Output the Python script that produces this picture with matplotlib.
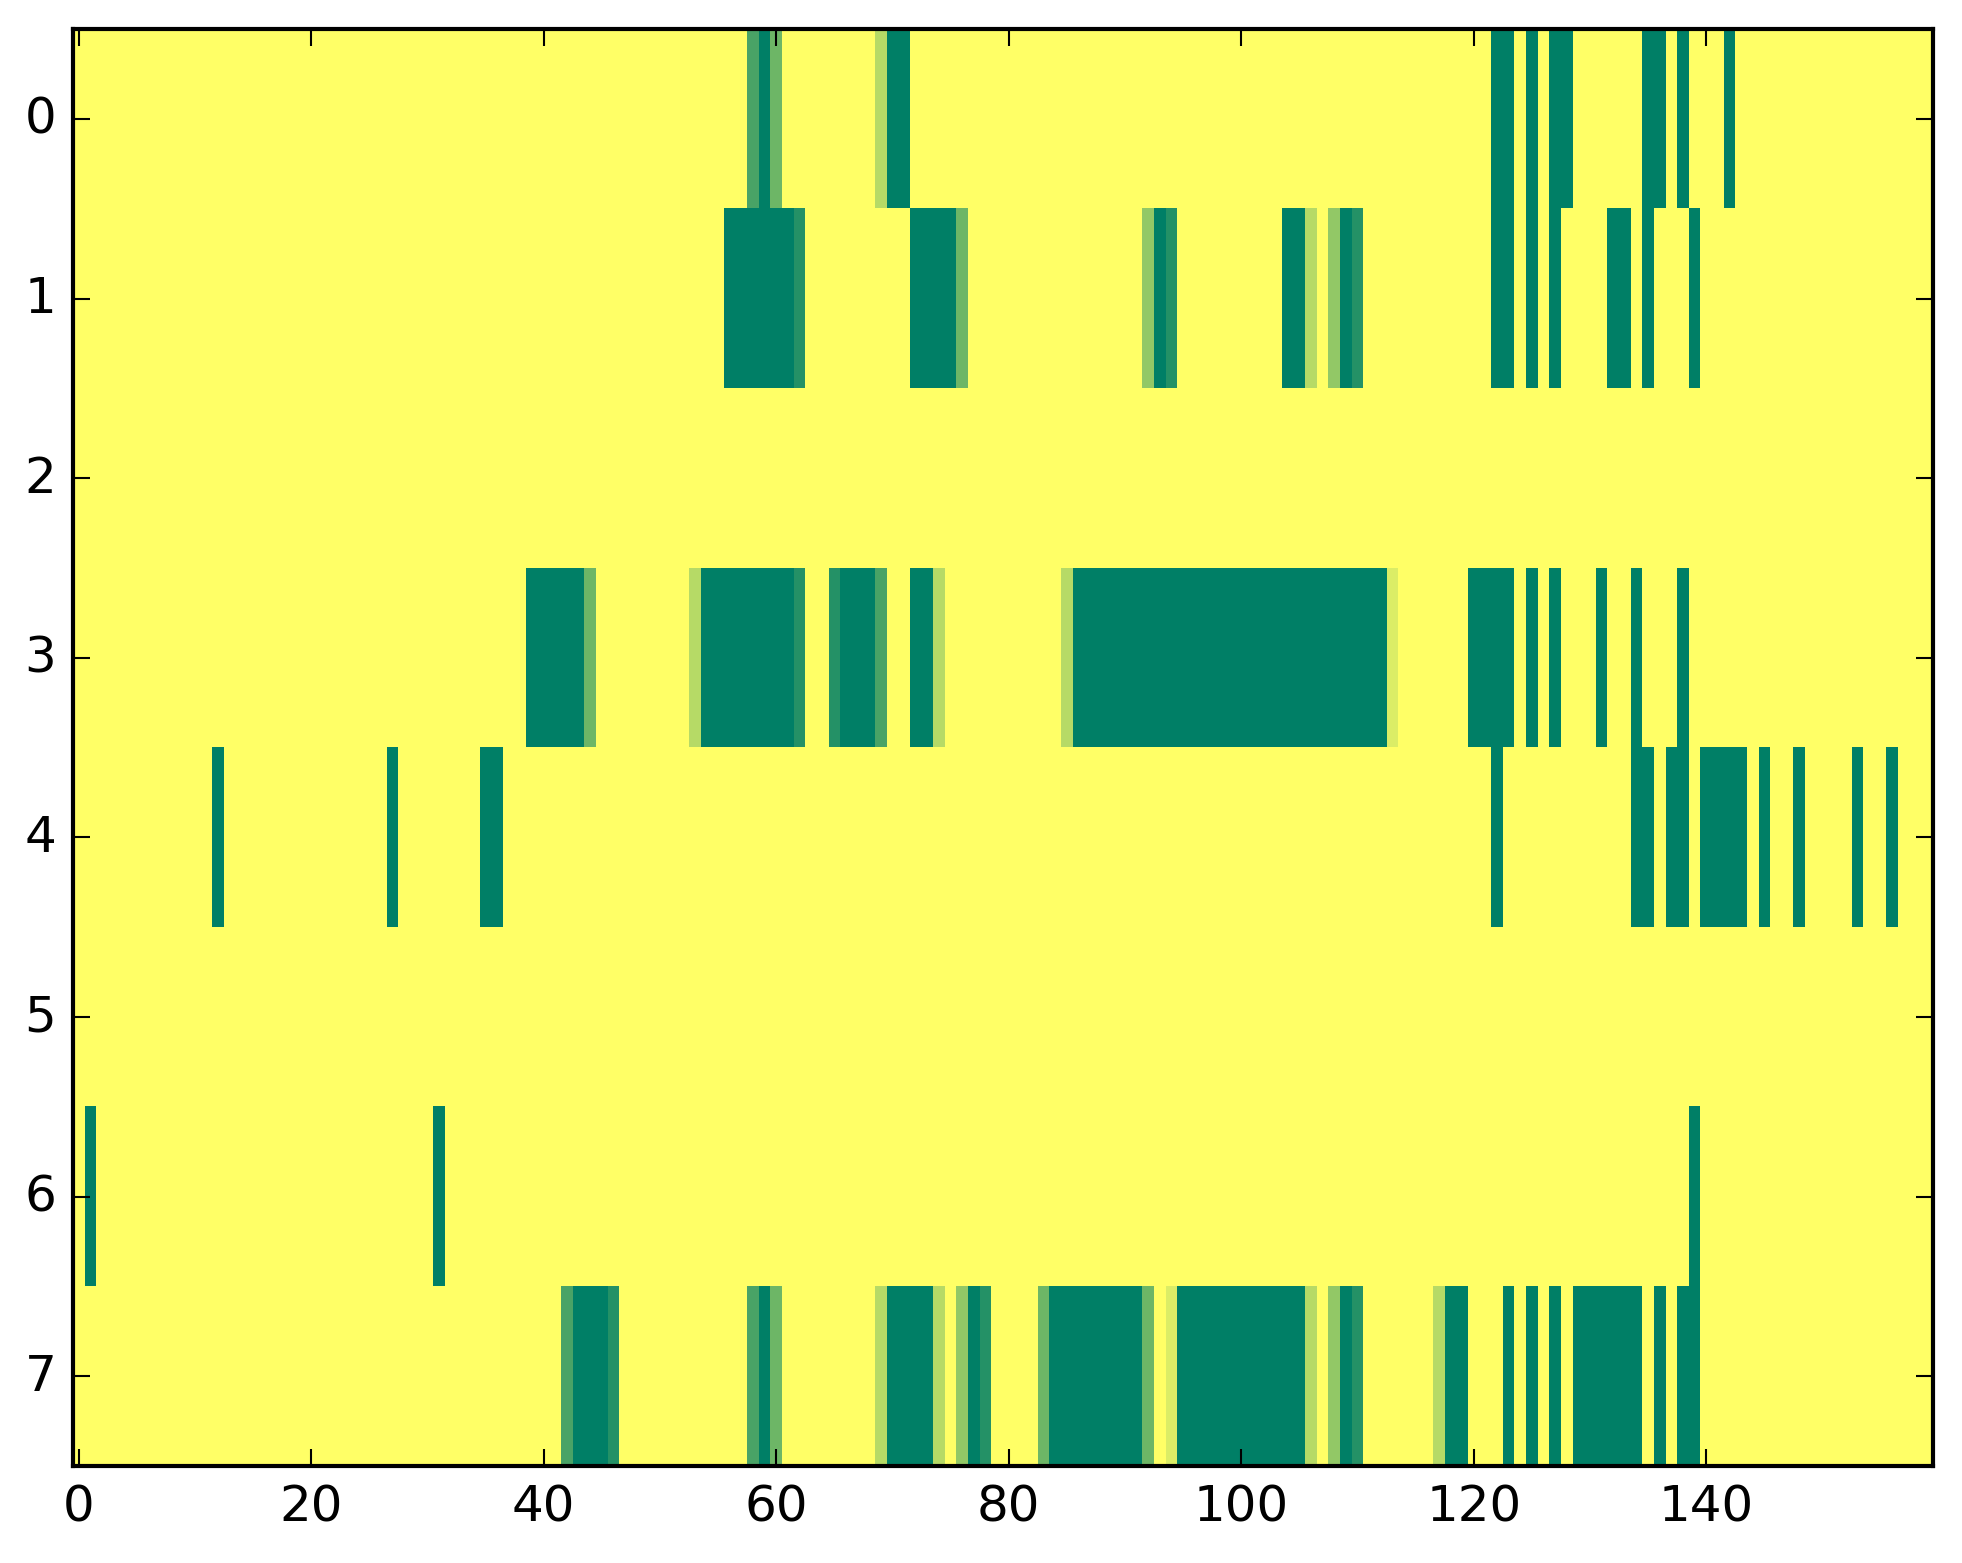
import numpy as np
import matplotlib
matplotlib.use('Agg')
import matplotlib.pyplot as plt

plt.style.use('classic')

# number of columns / rows in the map
n_cols = 160
n_rows = 8

# non-zero cells per row: column -> value in sevenths (7 = full)
row0 = {58: 5, 59: 7, 60: 4, 69: 2, 70: 7, 71: 7,
        122: 7, 123: 7, 125: 7, 127: 7, 128: 7, 135: 7, 136: 7, 138: 7, 142: 7}
row1 = {56: 7, 57: 7, 58: 7, 59: 7, 60: 7, 61: 7, 62: 6,
        72: 7, 73: 7, 74: 7, 75: 7, 76: 4,
        92: 3, 93: 7, 94: 6,
        104: 7, 105: 7, 106: 2, 108: 3, 109: 7, 110: 6,
        122: 7, 123: 7, 125: 7, 127: 7, 132: 7, 133: 7, 135: 7, 139: 7}
row2 = {}
row3 = {39: 7, 40: 7, 41: 7, 42: 7, 43: 7, 44: 4,
        53: 2, 54: 7, 55: 7, 56: 7, 57: 7, 58: 7, 59: 7, 60: 7, 61: 7, 62: 6,
        65: 6, 66: 7, 67: 7, 68: 7, 69: 5,
        72: 7, 73: 7, 74: 2,
        85: 2, 113: 1,
        120: 7, 121: 7, 122: 7, 123: 7, 125: 7, 127: 7, 131: 7, 134: 7, 138: 7}
row3.update({c: 7 for c in range(86, 113)})
row4 = {12: 7, 27: 7, 35: 7, 36: 7,
        122: 7, 134: 7, 135: 7, 137: 7, 138: 7,
        140: 7, 141: 7, 142: 7, 143: 7, 145: 7, 148: 7, 153: 7, 156: 7}
row5 = {}
row6 = {1: 7, 31: 7, 139: 7}
row7 = {42: 5, 43: 7, 44: 7, 45: 7, 46: 6,
        58: 5, 59: 7, 60: 4,
        69: 2, 70: 7, 71: 7, 72: 7, 73: 7, 74: 2, 76: 3, 77: 7, 78: 6,
        83: 4, 84: 7, 85: 7, 86: 7, 87: 7, 88: 7, 89: 7, 90: 7, 91: 7,
        92: 4, 94: 1,
        106: 2, 108: 3, 109: 7, 110: 6,
        117: 2, 118: 7, 119: 7,
        123: 7, 125: 7, 127: 7, 129: 7, 130: 7, 131: 7, 132: 7, 133: 7, 134: 7,
        136: 7, 138: 7, 139: 7}
row7.update({c: 7 for c in range(95, 106)})

rows = [row0, row1, row2, row3, row4, row5, row6, row7]

data = np.zeros((n_rows, n_cols))
for r, cells in enumerate(rows):
    for c, v in cells.items():
        data[r, c] = v / 7.0

fig = plt.figure(figsize=(6.543, 5.213), dpi=300, facecolor='white')
ax = fig.add_axes([0.0372, 0.062, 0.9475, 0.9188])
ax.imshow(data, cmap='summer_r', vmin=0, vmax=1, aspect='auto',
          interpolation='nearest')
ax.set_xticks(np.arange(0, 141, 20))
ax.set_yticks(np.arange(0, 8))
ax.set_xlim(-0.5, n_cols - 0.5)
ax.set_ylim(n_rows - 0.5, -0.5)

fig.savefig('out.png', dpi=300, facecolor='white')
